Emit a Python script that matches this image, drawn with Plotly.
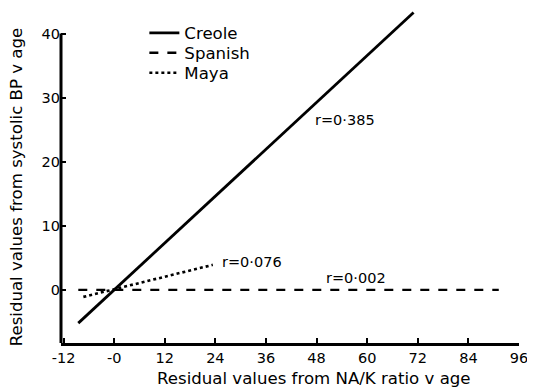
import plotly.graph_objects as go

# Data
creole_x = [-8.5, 71.0]
creole_y = [-5.2, 43.3]
spanish_x = [-8.5, 91.2]
spanish_y = [0.0, 0.0]
maya_x = [-7.3, 23.4]
maya_y = [-1.1, 3.9]

x_ticks = [-12, 0, 12, 24, 36, 48, 60, 72, 84, 96]
x_ticktext = ["-12", "-0", "12", "24", "36", "48", "60", "72", "84", "96"]
y_ticks = [0, 10, 20, 30, 40]

labels_text = ["r=0·385", "r=0·076", "r=0·002"]
labels_x = [47.2, 25.0, 49.7]
labels_y = [26.5, 4.3, 1.8]

x_title = "Residual values from NA/K ratio v age"
y_title = "Residual values from systolic BP v age"

FONT = "DejaVu Sans"
FS = 14.5
FT = 16.6

fig = go.Figure()
fig.add_trace(go.Scatter(x=creole_x, y=creole_y, mode="lines", name="Creole",
                         legend="legend",
                         line=dict(color="black", width=2.8, dash="solid")))
fig.add_trace(go.Scatter(x=spanish_x, y=spanish_y, mode="lines", name="Spanish",
                         legend="legend2",
                         line=dict(color="black", width=2.4, dash="dash")))
fig.add_trace(go.Scatter(x=maya_x, y=maya_y, mode="lines", name="Maya",
                         legend="legend3",
                         line=dict(color="black", width=2.6, dash="dot")))

for t, x, y in zip(labels_text, labels_x, labels_y):
    fig.add_annotation(x=x, y=y, text=t, showarrow=False, xanchor="left",
                       yanchor="middle", font=dict(size=FS, color="black", family=FONT))

# axis titles
fig.add_annotation(xref="paper", yref="y", x=0, y=16.0, xshift=-45, text=y_title,
                   textangle=-90, showarrow=False, xanchor="center", yanchor="middle",
                   font=dict(size=FT, color="black", family=FONT))
fig.add_annotation(xref="x", yref="paper", x=47.5, y=0, yshift=-35, text=x_title,
                   showarrow=False, xanchor="center", yanchor="middle",
                   font=dict(size=FT, color="black", family=FONT))

# y-axis line only up to 40
fig.add_shape(type="line", xref="paper", yref="y", x0=0, x1=0, y0=-8.3, y1=40,
              line=dict(color="black", width=3))

legend_style = dict(x=0.182, xanchor="left", yanchor="middle",
                    bgcolor="rgba(0,0,0,0)", font=dict(size=FT, family=FONT),
                    itemwidth=30)

# page body has an 8px default margin, so the figure is 8px smaller than the window
fig.update_layout(
    width=527, height=379,
    margin=dict(l=53, r=16, t=0, b=44),
    paper_bgcolor="white", plot_bgcolor="white",
    font=dict(family=FONT, size=FS, color="black"),
    showlegend=True,
    legend=dict(y=0.925, **legend_style),
    legend2=dict(y=0.866, **legend_style),
    legend3=dict(y=0.806, **legend_style),
    xaxis=dict(range=[-12.6, 96.0], tickvals=x_ticks, ticktext=x_ticktext,
               automargin=False, ticklabeloverflow="allow",
               showgrid=False, zeroline=False, showline=True, linecolor="black",
               linewidth=3, ticks="inside", ticklen=5, tickwidth=2, tickcolor="black",
               tickfont=dict(size=FS, family=FONT)),
    yaxis=dict(range=[-8.3, 44], tickvals=y_ticks, automargin=False,
               showgrid=False, zeroline=False, showline=False,
               ticks="inside", ticklen=5, tickwidth=2, tickcolor="black",
               tickfont=dict(size=FS, family=FONT)),
)

fig.write_html("out.html")
